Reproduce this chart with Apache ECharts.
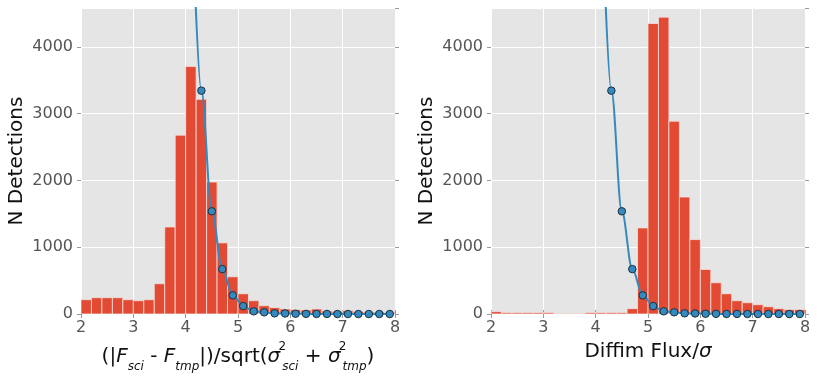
<!DOCTYPE html>
<html><head><meta charset="utf-8">
<script src="https://cdn.jsdelivr.net/npm/echarts@6/dist/echarts.min.js"></script>
<style>html,body{margin:0;padding:0;background:#fff}#c{width:817px;height:378px}</style>
</head><body><div id="c"></div>
<script>
// bin edges (width 0.2) shared by both histograms
const binEdges = [2.0,2.2,2.4,2.6,2.8,3.0,3.2,3.4,3.6,3.8,4.0,4.2,4.4,4.6,4.8,5.0,5.2,5.4,5.6,5.8,6.0,6.2,6.4,6.6,6.8,7.0,7.2,7.4,7.6,7.8,8.0];
// left histogram counts: (|F_sci - F_tmp|)/sqrt(...)
const leftCounts = [214,244,244,244,214,199,214,453,1303,2677,3706,3214,1975,1065,557,303,199,124,95,75,65,60,75,45,40,50,35,30,30,25];
// right histogram counts: Diffim Flux/sigma
const rightCounts = [35,20,20,20,20,20,5,5,5,20,20,20,20,80,1289,4348,4443,2886,1751,1114,667,468,303,199,169,139,109,80,65,65];
// expected curve (same in both panels)
const curveX = [4.1,4.3,4.5,4.7,4.9,5.1,5.3,5.5,5.7,5.9,6.1,6.3,6.5,6.7,6.9,7.1,7.3,7.5,7.7,7.9];
const curveY = [6600,3343,1537,672,279,119,40,25,10,8,4,2,1,1,0,0,0,0,0,0];
const xTicks = [2,3,4,5,6,7,8];
const yTicks = [0,1000,2000,3000,4000];
const yMax = 4580;

const chart = echarts.init(document.getElementById('c'));
const FONT = 'DejaVu Sans';
const histData = counts => counts.map((v,i)=>[binEdges[i], binEdges[i+1], v]);
function renderBar(params, api){
  const p0 = api.coord([api.value(0), api.value(2)]);
  const p1 = api.coord([api.value(1), 0]);
  return {type:'rect', shape:{x:p0[0], y:p0[1], width:p1[0]-p0[0], height:p1[1]-p0[1]},
    style:{fill:'#E24A33', stroke:'#F2E2E0', lineWidth:0.8}};
}
const grids = [
  {left:81, width:314, top:8, bottom:64, show:true, backgroundColor:'#E5E5E5', borderWidth:0},
  {left:491, width:314, top:8, bottom:64, show:true, backgroundColor:'#E5E5E5', borderWidth:0}
];
const xAxes = [], yAxes = [];
const xNames = [
  '{n|(|}{i|F}{s|sci}{n| - }{i|F}{s|tmp}{n||)/sqrt(}{i|σ}{p|2}{s|sci}{n| + }{i|σ}{p|2}{s|tmp}{n|)}',
  '{n|Diffim Flux/}{i|σ}'
];
const rich = {
  n:{fontFamily:FONT, fontSize:20, color:'#111', lineHeight:28, verticalAlign:'middle'},
  i:{fontFamily:FONT, fontSize:20, fontStyle:'italic', color:'#111', lineHeight:28, verticalAlign:'middle'},
  s:{fontFamily:FONT, fontSize:12, fontStyle:'italic', color:'#111', lineHeight:28, verticalAlign:'bottom', padding:[0,0,-2,0]},
  p:{fontFamily:FONT, fontSize:12, color:'#111', lineHeight:28, verticalAlign:'top', padding:[-2,0,0,2], width:0, align:'left'}
};
for (let g=0; g<2; g++){
  xAxes.push({type:'value', gridIndex:g, min:2, max:8, interval:1, position:'bottom',
    name:xNames[g], nameLocation:'middle', nameGap:24,
    nameTextStyle:{rich:rich},
    axisLine:{show:false}, axisTick:{show:true, length:4, lineStyle:{color:'#999'}},
    axisLabel:{fontFamily:FONT, fontSize:16, color:'#555', margin:6},
    splitLine:{show:true, lineStyle:{color:'#ffffff', width:1}}});
  xAxes.push({type:'value', gridIndex:g, min:2, max:8, interval:1, position:'top',
    axisLine:{show:false}, axisTick:{show:true, length:4, lineStyle:{color:'#999'}},
    axisLabel:{show:false}, splitLine:{show:false}});
  yAxes.push({type:'value', gridIndex:g, min:0, max:yMax, interval:1000, position:'left',
    name:'N Detections', nameLocation:'middle', nameGap:54,
    nameTextStyle:{fontFamily:FONT, fontSize:20, color:'#111'},
    axisLine:{show:false}, axisTick:{show:true, length:4, lineStyle:{color:'#999'}},
    axisLabel:{fontFamily:FONT, fontSize:16, color:'#555', margin:8, showMaxLabel:false,
      formatter: v => yTicks.includes(v) ? String(v) : ''},
    splitLine:{show:true, lineStyle:{color:'#ffffff', width:1}}});
  yAxes.push({type:'value', gridIndex:g, min:0, max:yMax, interval:1000, position:'right',
    axisLine:{show:false}, axisTick:{show:true, length:4, lineStyle:{color:'#999'}},
    axisLabel:{show:false}, splitLine:{show:false}});
}
const curve = curveX.map((x,i)=>[x, curveY[i]]);
const series = [];
[leftCounts, rightCounts].forEach((counts, g)=>{
  series.push({type:'custom', xAxisIndex:g*2, yAxisIndex:g*2, renderItem:renderBar,
    data:histData(counts), encode:{x:[0,1], y:2}, clip:true, silent:true, z:2});
  series.push({type:'line', xAxisIndex:g*2, yAxisIndex:g*2, data:curve, clip:true,
    smooth:0.35, smoothMonotone:'x', symbol:'circle', symbolSize:7.5, showAllSymbol:true,
    lineStyle:{color:'#348ABD', width:2},
    itemStyle:{color:'#348ABD', borderColor:'#1c2f40', borderWidth:1}, z:3, silent:true, animation:false});
});
chart.setOption({animation:false, grid:grids, xAxis:xAxes, yAxis:yAxes, series:series});
</script></body></html>
